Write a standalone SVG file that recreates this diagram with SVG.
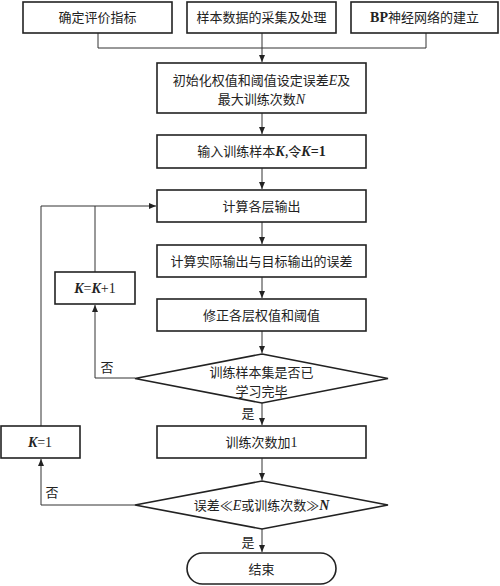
<svg xmlns="http://www.w3.org/2000/svg" width="500" height="586" viewBox="0 0 500 586">
<style>
.b{fill:#fff;stroke:#222;stroke-width:1.6}
.c{fill:none;stroke:#333;stroke-width:1}
text{font-family:"Noto Sans CJK SC","Noto Sans CJK JP",sans-serif;font-size:13px;fill:#222;text-anchor:middle}
.i{font-family:"Liberation Serif",serif;font-style:italic;font-size:14px}
.r{font-family:"Liberation Serif",serif;font-size:14px}
</style>
<defs>
<marker id="a" markerWidth="8" markerHeight="8" refX="7" refY="4" orient="auto" markerUnits="userSpaceOnUse">
<path d="M0,1 L7,4 L0,7 Z" fill="#222"/>
</marker>
</defs>
<rect width="500" height="586" fill="#fff"/>
<g id="connectors">
<path class="c" d="M98,33 V48 H426 V33"/>
<path class="c" d="M262,33 V62" marker-end="url(#a)"/>
<path class="c" d="M262,113 V134" marker-end="url(#a)"/>
<path class="c" d="M262,168 V189" marker-end="url(#a)"/>
<path class="c" d="M262,222 V244" marker-end="url(#a)"/>
<path class="c" d="M262,277 V298" marker-end="url(#a)"/>
<path class="c" d="M262,331 V353" marker-end="url(#a)"/>
<path class="c" d="M262,403 V425" marker-end="url(#a)"/>
<path class="c" d="M262,458 V480" marker-end="url(#a)"/>
<path class="c" d="M262,529 V552" marker-end="url(#a)"/>
<path class="c" d="M135,378 H95 V305" marker-end="url(#a)"/>
<path class="c" d="M95,272 V206"/>
<path class="c" d="M41,426 V206 H156" marker-end="url(#a)"/>
<path class="c" d="M135,505 H41 V459" marker-end="url(#a)"/>
</g>
<g id="n1"><rect class="b" x="23" y="2" width="149" height="31"/><text x="97.5" y="22">确定评价指标</text></g>
<g id="n2"><rect class="b" x="187" y="2" width="149" height="31"/><text x="261.5" y="22">样本数据的采集及处理</text></g>
<g id="n3"><rect class="b" x="351" y="2" width="147" height="31"/><text x="424.5" y="22"><tspan class="r" font-weight="bold">BP</tspan>神经网络的建立</text></g>
<g id="n4"><rect class="b" x="157" y="63" width="209" height="50"/>
<text x="261.5" y="85">初始化权值和阈值设定误差<tspan class="i">E</tspan>及</text>
<text x="261.5" y="104">最大训练次数<tspan class="i">N</tspan></text></g>
<g id="n5"><rect class="b" x="157" y="135" width="209" height="33"/><text x="261.5" y="156">输入训练样本<tspan class="i" font-weight="bold">K</tspan>,令<tspan class="i" font-weight="bold">K</tspan><tspan class="r" font-weight="bold">=1</tspan></text></g>
<g id="n6"><rect class="b" x="157" y="190" width="209" height="32"/><text x="261.5" y="211">计算各层输出</text></g>
<g id="n7"><rect class="b" x="157" y="245" width="209" height="32"/><text x="261.5" y="266">计算实际输出与目标输出的误差</text></g>
<g id="n8"><rect class="b" x="55" y="272" width="80" height="32"/><text x="95" y="293"><tspan class="i" font-weight="bold">K</tspan><tspan class="r">=</tspan><tspan class="i" font-weight="bold">K</tspan><tspan class="r">+1</tspan></text></g>
<g id="n9"><rect class="b" x="157" y="299" width="209" height="32"/><text x="261.5" y="320">修正各层权值和阈值</text></g>
<g id="n10"><path class="b" d="M262,354 L388,378.5 L262,403 L135,378.5 Z"/>
<text x="261.5" y="377">训练样本集是否已</text><text x="261.5" y="396">学习完毕</text></g>
<text x="107" y="372">否</text>
<text x="248" y="418">是</text>
<g id="n11"><rect class="b" x="157" y="426" width="209" height="32"/><text x="261.5" y="447">训练次数加<tspan class="r">1</tspan></text></g>
<g id="n12"><rect class="b" x="1" y="426" width="79" height="32"/><text x="40" y="447"><tspan class="i" font-weight="bold">K</tspan><tspan class="r">=1</tspan></text></g>
<g id="n13"><path class="b" d="M262,481 L388,505 L262,529 L135,505 Z"/>
<text x="261.5" y="510">误差≪<tspan class="i">E</tspan>或训练次数≫<tspan class="i" font-weight="bold">N</tspan></text></g>
<text x="52" y="497">否</text>
<text x="248" y="547">是</text>
<g id="n14"><rect class="b" x="187" y="553" width="149" height="31" rx="15.5"/><text x="261.5" y="574">结束</text></g>
</svg>
